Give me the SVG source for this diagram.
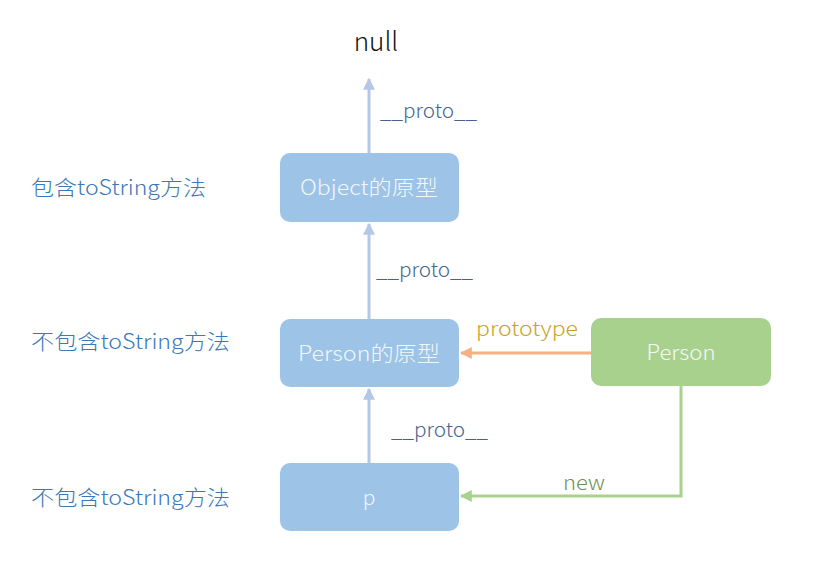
<svg xmlns="http://www.w3.org/2000/svg" width="816" height="579" viewBox="0 0 816 579">
<style>
text{font-family:"Noto Sans CJK SC","Noto Sans",sans-serif;font-weight:300;}
.box{fill:#9dc3e6;}
.gbox{fill:#a9d18e;}
.bt{fill:#f2f7fc;font-size:21px;text-anchor:middle;}
.side{fill:#3b78b8;font-size:21px;}
.proto{fill:#44648f;font-size:20px;}
.blue{stroke:#b4c7e7;stroke-width:3;fill:none;}
</style>
<defs>
<marker id="ab" viewBox="0 0 10 10" refX="9" refY="5" markerWidth="4" markerHeight="4" orient="auto"><path d="M0,0 L10,5 L0,10 z" fill="#b4c7e7"/></marker>
<marker id="ao" viewBox="0 0 10 10" refX="9" refY="5" markerWidth="4" markerHeight="4" orient="auto"><path d="M0,0 L10,5 L0,10 z" fill="#f4b183"/></marker>
<marker id="ag" viewBox="0 0 10 10" refX="9" refY="5" markerWidth="4" markerHeight="4" orient="auto"><path d="M0,0 L10,5 L0,10 z" fill="#a9d18e"/></marker>
</defs>
<rect width="816" height="579" fill="#ffffff"/>
<g id="connectors">
<line class="blue" x1="369" y1="153" x2="369" y2="79" marker-end="url(#ab)"/>
<line class="blue" x1="369" y1="319" x2="369" y2="224" marker-end="url(#ab)"/>
<line class="blue" x1="369" y1="463" x2="369" y2="389" marker-end="url(#ab)"/>
<line x1="591" y1="353" x2="461" y2="353" stroke="#f4b183" stroke-width="3" marker-end="url(#ao)"/>
<polyline points="681,386 681,496 461,496" fill="none" stroke="#a9d18e" stroke-width="3" marker-end="url(#ag)"/>
<text class="proto" x="380" y="118" textLength="97" lengthAdjust="spacingAndGlyphs">__proto__</text>
<text class="proto" x="376" y="277" textLength="97" lengthAdjust="spacingAndGlyphs">__proto__</text>
<text class="proto" x="391" y="437" textLength="97" lengthAdjust="spacingAndGlyphs">__proto__</text>
<text x="476" y="336" fill="#c9a227" font-size="20" textLength="102" lengthAdjust="spacingAndGlyphs">prototype</text>
<text x="563" y="490" fill="#6f9251" font-size="20" textLength="42" lengthAdjust="spacingAndGlyphs">new</text>
</g>
<g id="null"><text x="376" y="51" font-size="26" fill="#111111" font-weight="400" text-anchor="middle">null</text></g>
<g id="object-proto"><rect class="box" x="280" y="153" width="179" height="69" rx="10"/><text class="bt" x="369" y="195" textLength="138" lengthAdjust="spacingAndGlyphs">Object的原型</text></g>
<g id="person-proto"><rect class="box" x="280" y="319" width="179" height="68" rx="10"/><text class="bt" x="369" y="361" textLength="142" lengthAdjust="spacingAndGlyphs">Person的原型</text></g>
<g id="p"><rect class="box" x="280" y="463" width="179" height="68" rx="10"/><text class="bt" x="369" y="505">p</text></g>
<g id="person"><rect class="gbox" x="591" y="318" width="180" height="68" rx="10"/><text class="bt" x="681" y="360" textLength="69" lengthAdjust="spacingAndGlyphs">Person</text></g>
<g id="side-labels">
<text class="side" x="31" y="195" textLength="175" lengthAdjust="spacingAndGlyphs">包含toString方法</text>
<text class="side" x="31" y="349" textLength="199" lengthAdjust="spacingAndGlyphs">不包含toString方法</text>
<text class="side" x="31" y="505" textLength="199" lengthAdjust="spacingAndGlyphs">不包含toString方法</text>
</g>
</svg>
